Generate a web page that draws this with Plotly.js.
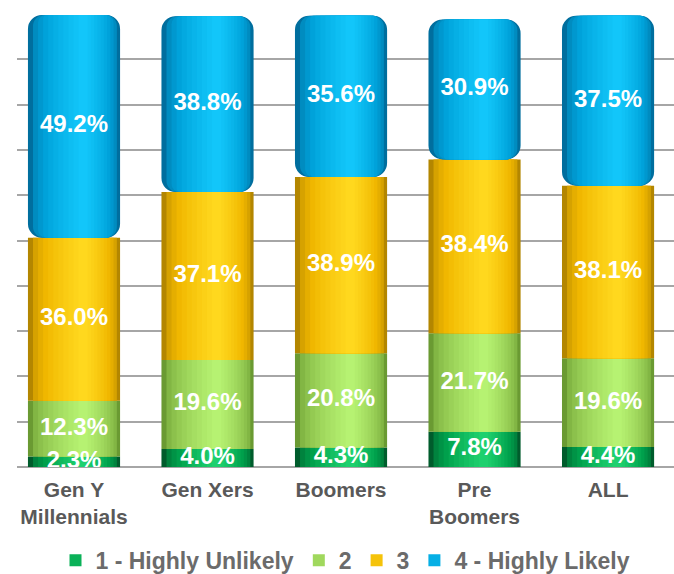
<!DOCTYPE html>
<html>
<head>
<meta charset="utf-8">
<script src="https://cdn.plot.ly/plotly-3.0.1.min.js"></script>
<style>html,body{margin:0;padding:0;background:#fff;}#chart{width:674px;height:574px;}</style>
</head>
<body>
<div id="chart"></div>
<script>
// ---- data ----
const categories = ["Gen Y<br>Millennials", "Gen Xers", "Boomers", "Pre<br>Boomers", "ALL"];
const seriesNames = ["1 - Highly Unlikely", "2", "3", "4 - Highly Likely"];
const highlyUnlikely = [2.3, 4.0, 4.3, 7.8, 4.4];
const rating2 = [12.3, 19.6, 20.8, 21.7, 19.6];
const rating3 = [36.0, 37.1, 38.9, 38.4, 38.1];
const highlyLikely = [49.2, 38.8, 35.6, 30.9, 37.5];

// ---- styles ----
const series = [highlyUnlikely, rating2, rating3, highlyLikely];
const palettes = [
  {edge: "#005c2c", mid: "#00a04c", high: "#1ed06e"},
  {edge: "#6a9a32", mid: "#94ca52", high: "#b6f272"},
  {edge: "#b38600", mid: "#f0b700", high: "#ffd81e"},
  {edge: "#006e9e", mid: "#00a2da", high: "#12c6fa"}
];
const barWidth = 0.69;
const pxPerUnit = 133.5;
const capRadius = 14;
const nLayers = 11;

function hexToRgb(h){return [parseInt(h.slice(1,3),16),parseInt(h.slice(3,5),16),parseInt(h.slice(5,7),16)];}
function mix(a,b,t){const A=hexToRgb(a),B=hexToRgb(b);return "rgb("+A.map((v,i)=>Math.round(v+(B[i]-v)*t)).join(",")+")";}
function shade(p,t){return t<=0.55 ? mix(p.edge,p.mid,t/0.55) : mix(p.mid,p.high,(t-0.55)/0.45);}

const xIdx = categories.map((c,i)=>i);
const bases = [];
let cum = categories.map(()=>0);
series.forEach((s)=>{bases.push(cum.slice()); cum = cum.map((v,i)=>v+s[i]);});

const traces = [];
const legendLayer = 5;
series.forEach((s,si)=>{
  const p = palettes[si];
  for (let li=0; li<nLayers; li++){
    const k = li/(nLayers-1);
    const f = 1 - 0.9*k;
    const t = Math.sqrt(k);
    const w = barWidth*f;
    const shift = 0.11*barWidth*(1-f);
    const tr = {
      type: "bar",
      x: xIdx,
      y: s,
      base: bases[si],
      width: categories.map(()=>w),
      offset: categories.map(()=>-w/2+shift),
      marker: {color: shade(p,t), line:{width:0}},
      name: seriesNames[si],
      legendgroup: "g"+si,
      showlegend: li===legendLayer,
      hoverinfo: "skip"
    };
    if (si===3){
      const inset = ((barWidth - w)/2 - shift)*pxPerUnit;
      tr.marker.cornerradius = Math.max(0, Math.round(capRadius - inset));
    }
    traces.push(tr);
  }
});

// labels
const lx=[], ly=[], lt=[];
series.forEach((s,si)=>{
  s.forEach((v,i)=>{lx.push(i); ly.push(bases[si][i]+v/2); lt.push(v.toFixed(1)+"%");});
});
traces.push({
  type:"scatter", mode:"text", x:lx, y:ly, text:lt,
  textfont:{family:"Liberation Sans, Arial, sans-serif", size:24, color:"#ffffff", weight:"bold"},
  showlegend:false, hoverinfo:"skip", cliponaxis:true
});

const layout = {
  width: 674, height: 574,
  margin: {l: 17, r: 0, t: 14, b: 107, autoexpand: false},
  paper_bgcolor: "#ffffff", plot_bgcolor: "#ffffff",
  barmode: "overlay",
  showlegend: true,
  xaxis: {
    range: [-0.427, 4.494],
    tickmode: "array", tickvals: xIdx, ticktext: categories,
    showgrid: false, zeroline: false, showline: false, ticks: "",
    ticklabelstandoff: 8, automargin: false,
    tickfont: {family: "Liberation Sans, Arial, sans-serif", size: 21, color: "#595959", weight: "bold"},
    fixedrange: true
  },
  yaxis: {
    range: [0, 100], dtick: 10, showticklabels: false,
    showgrid: true, gridcolor: "#a6a6a6", gridwidth: 2,
    zeroline: true, zerolinecolor: "#a6a6a6", zerolinewidth: 2,
    showline: false, fixedrange: true, automargin: false
  },
  legend: {
    orientation: "h", x: 0.5, xanchor: "center",
    yref: "container", y: 0.024, yanchor: "middle",
    font: {family: "Liberation Sans, Arial, sans-serif", size: 23, color: "#6b6b6b", weight: "bold"},
    traceorder: "normal"
  }
};

Plotly.newPlot("chart", traces, layout, {displayModeBar: false, staticPlot: true});
</script>
</body>
</html>
